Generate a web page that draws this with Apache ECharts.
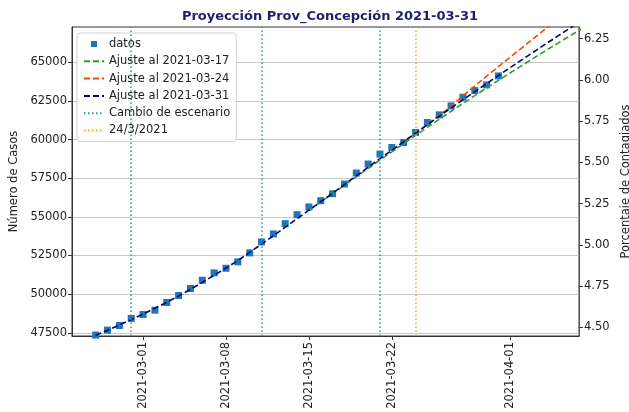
<!DOCTYPE html>
<html>
<head>
<meta charset="utf-8">
<script src="https://cdn.jsdelivr.net/npm/echarts@6/dist/echarts.min.js"></script>
<style>
  html, body { margin: 0; padding: 0; background: #fff; }
  #chart { width: 629px; height: 412px; }
</style>
</head>
<body>
<div id="chart"></div>
<script>
// casos diarios desde 2021-02-25
const inicioDatos = '2021-02-25';
const datos = [47350, 47668, 47971, 48424, 48682, 48960, 49457, 49909, 50361, 50897,
  51375, 51672, 52085, 52666, 53377, 53893, 54559, 55140, 55637, 56044,
  56496, 57122, 57833, 58414, 59060, 59486, 59809, 60455, 61101, 61598,
  62179, 62741, 63167, 63535, 64117];

// ajustes (valores diarios)
const inicioAjuste17 = '2021-03-15';
const ajuste17 = [55420, 55960, 56500, 57045, 57590, 58135, 58680, 59200, 59730, 60260,
  60790, 61310, 61830, 62335, 62840, 63335, 63830, 64320, 64800, 65280,
  65760, 66225, 66690, 67150];
const inicioAjuste24 = '2021-03-22';
const ajuste24 = [59310, 59860, 60410, 60980, 61560, 62160, 62820, 63470, 64100, 64720,
  65340, 65950, 66560, 67170, 67790, 68420, 69050];
const inicioAjuste31 = '2021-02-25';
const ajuste31 = [47330, 47660, 48000, 48350, 48710, 49080, 49470, 49880, 50310, 50760,
  51220, 51690, 52170, 52700, 53230, 53780, 54330, 54880, 55430, 55980,
  56530, 57090, 57650, 58210, 58770, 59310, 59860, 60410, 60960, 61500,
  62040, 62570, 63100, 63620, 64140, 64660, 65170, 65680, 66190, 66690,
  67190, 67690];

const cambiosEscenario = ['2021-02-28', '2021-03-11', '2021-03-21'];
const fechaCorte = '2021-03-24';

const fechasEje = ['2021-03-01', '2021-03-08', '2021-03-15', '2021-03-22', '2021-04-01'];
const casosEje = [47500, 50000, 52500, 55000, 57500, 60000, 62500, 65000];
const porcentajeEje = [4.5, 4.75, 5.0, 5.25, 5.5, 5.75, 6.0, 6.25];

const ORIGEN = Date.UTC(2021, 2, 1);
function dia (s) {
  const p = s.split('-').map(Number);
  return Math.round((Date.UTC(p[0], p[1] - 1, p[2]) - ORIGEN) / 86400000);
}
function serie (inicio, valores) {
  const d0 = dia(inicio);
  return valores.map((v, i) => [d0 + i, v]);
}
function etiqueta (d) {
  const t = new Date(ORIGEN + d * 86400000);
  return t.toISOString().slice(0, 10);
}

const font = 'DejaVu Sans';
const txt = '#222';
const dashed = [6, 3];
const dotted = [1.5, 2.5];
const sinSimbolo = { opacity: 0 };

let myChart = echarts.init(document.getElementById('chart'));
myChart.setOption({
  animation: false,
  textStyle: { fontFamily: font },
  title: {
    text: 'Proyección Prov_Concepción 2021-03-31',
    left: 325,
    textAlign: 'center',
    top: 5,
    textStyle: { fontFamily: font, fontSize: 13, fontWeight: 'bold', color: '#1f1f6e' }
  },
  grid: {
    left: 72, right: 50, top: 27, bottom: 76,
    outerBoundsMode: 'none',
    containLabel: false,
    show: true, borderColor: '#333', borderWidth: 1, backgroundColor: 'transparent'
  },
  legend: {
    orient: 'vertical',
    left: 77, top: 33,
    padding: [4, 6, 4, 6],
    itemWidth: 20, itemHeight: 6, itemGap: 3.3,
    backgroundColor: 'rgba(255,255,255,0.85)',
    borderColor: '#d0d0d0', borderWidth: 1, borderRadius: 3,
    textStyle: { fontFamily: font, fontSize: 11.5, color: txt, lineHeight: 14 },
    data: [
      { name: 'datos', icon: 'path://M0,3M20,3M7,0h6v6h-6z' },
      { name: 'Ajuste al 2021-03-17', itemStyle: sinSimbolo },
      { name: 'Ajuste al 2021-03-24', itemStyle: sinSimbolo },
      { name: 'Ajuste al 2021-03-31', itemStyle: sinSimbolo },
      { name: 'Cambio de escenario', itemStyle: sinSimbolo },
      { name: '24/3/2021', itemStyle: sinSimbolo }
    ]
  },
  xAxis: {
    type: 'value',
    min: -6, max: 36.8,
    axisLine: { show: true, onZero: false, lineStyle: { color: '#333' } },
    axisTick: { show: true, length: 4, lineStyle: { color: '#333' }, customValues: fechasEje.map(dia) },
    axisLabel: {
      rotate: 90, margin: 6, fontSize: 11.5, color: txt, fontFamily: font,
      customValues: fechasEje.map(dia),
      formatter: (v) => etiqueta(v)
    },
    splitLine: { show: false }
  },
  yAxis: [{
    type: 'value',
    position: 'left',
    min: 47290, max: 67281,
    name: 'Número de Casos',
    nameLocation: 'middle', nameRotate: 90, nameGap: 50,
    nameTextStyle: { fontSize: 11.5, color: txt, fontFamily: font },
    axisLine: { show: true, onZero: false, lineStyle: { color: '#333' } },
    axisTick: { show: true, length: 4, lineStyle: { color: '#333' }, customValues: casosEje },
    axisLabel: {
      fontSize: 11.5, color: txt, fontFamily: font, margin: 5,
      customValues: casosEje,
      formatter: (v) => String(v)
    },
    splitLine: { show: true, lineStyle: { color: '#c8c8c8', width: 1 } }
  }, {
    type: 'value',
    position: 'right',
    min: 4.4485, max: 6.32,
    name: 'Porcentaje de Contagiados',
    nameLocation: 'middle', nameRotate: 90, nameGap: 33,
    nameTextStyle: { fontSize: 11.5, color: txt, fontFamily: font },
    axisLine: { show: true, onZero: false, lineStyle: { color: '#555' } },
    axisTick: { show: true, length: 4, lineStyle: { color: '#333' }, customValues: porcentajeEje },
    axisLabel: {
      fontSize: 11.5, color: txt, fontFamily: font, margin: 5,
      customValues: porcentajeEje,
      formatter: (v) => v.toFixed(2)
    },
    splitLine: { show: false }
  }],
  series: [{
    name: 'datos',
    type: 'scatter',
    symbol: 'rect',
    symbolSize: 7,
    z: 2,
    itemStyle: { color: '#1f77b4', opacity: 1 },
    data: serie(inicioDatos, datos)
  }, {
    name: 'Ajuste al 2021-03-17',
    type: 'line',
    symbol: 'none',
    z: 3,
    itemStyle: { color: '#2ca02c' },
    lineStyle: { color: '#2ca02c', width: 1.6, type: dashed },
    data: serie(inicioAjuste17, ajuste17)
  }, {
    name: 'Ajuste al 2021-03-24',
    type: 'line',
    symbol: 'none',
    z: 3,
    itemStyle: { color: '#ff4500' },
    lineStyle: { color: '#ff4500', width: 1.6, type: dashed },
    data: serie(inicioAjuste24, ajuste24)
  }, {
    name: 'Ajuste al 2021-03-31',
    type: 'line',
    symbol: 'none',
    z: 3,
    itemStyle: { color: '#000080' },
    lineStyle: { color: '#000080', width: 1.6, type: dashed },
    data: serie(inicioAjuste31, ajuste31)
  }, {
    name: 'Cambio de escenario',
    type: 'line',
    symbol: 'none',
    z: 4,
    itemStyle: { color: '#1a9fa0' },
    lineStyle: { color: '#1a9fa0', width: 1.5, type: dotted },
    data: [],
    markLine: {
      silent: true, symbol: 'none', label: { show: false },
      lineStyle: { color: '#1a9fa0', width: 1.5, type: dotted },
      data: cambiosEscenario.map((f) => ({ xAxis: dia(f) }))
    }
  }, {
    name: '24/3/2021',
    type: 'line',
    symbol: 'none',
    z: 4,
    itemStyle: { color: '#ffa500' },
    lineStyle: { color: '#ffa500', width: 1.5, type: dotted },
    data: [],
    markLine: {
      silent: true, symbol: 'none', label: { show: false },
      lineStyle: { color: '#ffa500', width: 1.5, type: dotted },
      data: [{ xAxis: dia(fechaCorte) }]
    }
  }]
});
</script>
</body>
</html>
